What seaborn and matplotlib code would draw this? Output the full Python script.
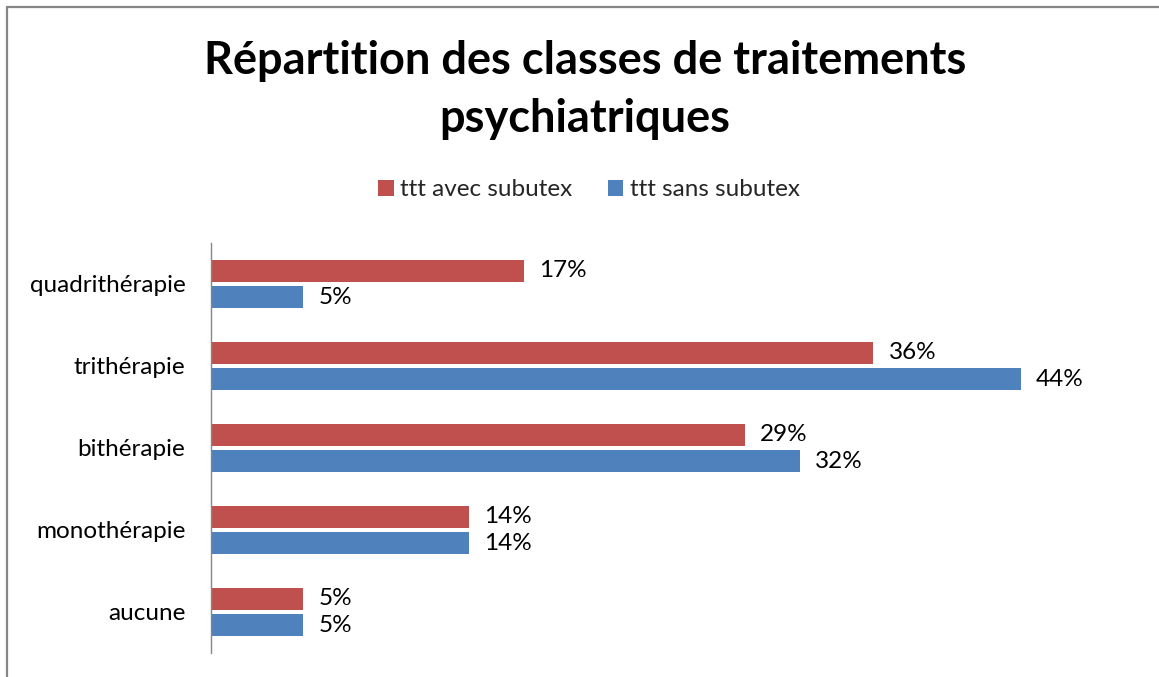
import matplotlib
matplotlib.use("Agg")
import matplotlib.pyplot as plt
import seaborn as sns
import pandas as pd
from matplotlib.lines import Line2D
from matplotlib.patches import Patch

categories = ["quadrithérapie", "trithérapie", "bithérapie", "monothérapie", "aucune"]
avec_subutex = [17, 36, 29, 14, 5]
sans_subutex = [5, 44, 32, 14, 5]
series_names = ["ttt avec subutex", "ttt sans subutex"]
title_text = "Répartition des classes de traitements\npsychiatriques"

colors = ["#C0504D", "#4F81BD"]

df = pd.DataFrame({
    "categorie": categories * 2,
    "valeur": avec_subutex + sans_subutex,
    "serie": [series_names[0]] * len(categories) + [series_names[1]] * len(categories),
})

sns.set_theme(style="white")
plt.rcParams["font.family"] = ["Lato", "DejaVu Sans"]

W, H = 1159, 677
fig = plt.figure(figsize=(W / 100, H / 100), dpi=100)
ax = fig.add_axes([211 / W, 1 - 653 / H, (1131 - 211) / W, (653 - 243) / H])

sns.barplot(data=df, y="categorie", x="valeur", hue="serie", order=categories,
            hue_order=series_names, palette=colors, orient="h", width=0.64,
            ax=ax, legend=False, saturation=1, edgecolor="none")

# shrink bars slightly to leave a gap between the two series
for p in ax.patches:
    h = p.get_height()
    newh = h - 0.05
    p.set_y(p.get_y() + (h - newh) / 2)
    p.set_height(newh)

for cont in ax.containers:
    ax.bar_label(cont, labels=[f"{v:.0f}%" for v in cont.datavalues],
                 padding=11, fontsize=17.5, color="#000000")

ax.set_xlim(0, 50)
ax.set_ylim(4.5, -0.5)
ax.set_xlabel("")
ax.set_ylabel("")
ax.set_xticks([])
ax.tick_params(axis="y", length=0, pad=18.5, labelsize=17.5, labelcolor="#000000")
for s in ["top", "right", "bottom"]:
    ax.spines[s].set_visible(False)
ax.spines["left"].set_color("#868686")
ax.spines["left"].set_linewidth(1.0)

fig.text(585 / W, 1 - 90 / H, title_text, ha="center", va="center",
         fontsize=32.5, fontweight="bold", color="#000000", linespacing=1.46)

handles = [Patch(facecolor=c, edgecolor="none") for c in colors]
fig.legend(handles, series_names, loc="center", bbox_to_anchor=(589 / W, 1 - 190 / H),
           ncol=2, frameon=False, fontsize=17.5, handlelength=0.62, handleheight=0.62,
           handletextpad=0.25, columnspacing=1.5)

# chart border (top and left visible)
fig.add_artist(Line2D([7 / W, 1.0], [1 - 7 / H, 1 - 7 / H], color="#868686", lw=1.6,
                      transform=fig.transFigure))
fig.add_artist(Line2D([7 / W, 7 / W], [0.0, 1 - 7 / H], color="#868686", lw=1.6,
                      transform=fig.transFigure))

fig.savefig("out.png", dpi=100)
